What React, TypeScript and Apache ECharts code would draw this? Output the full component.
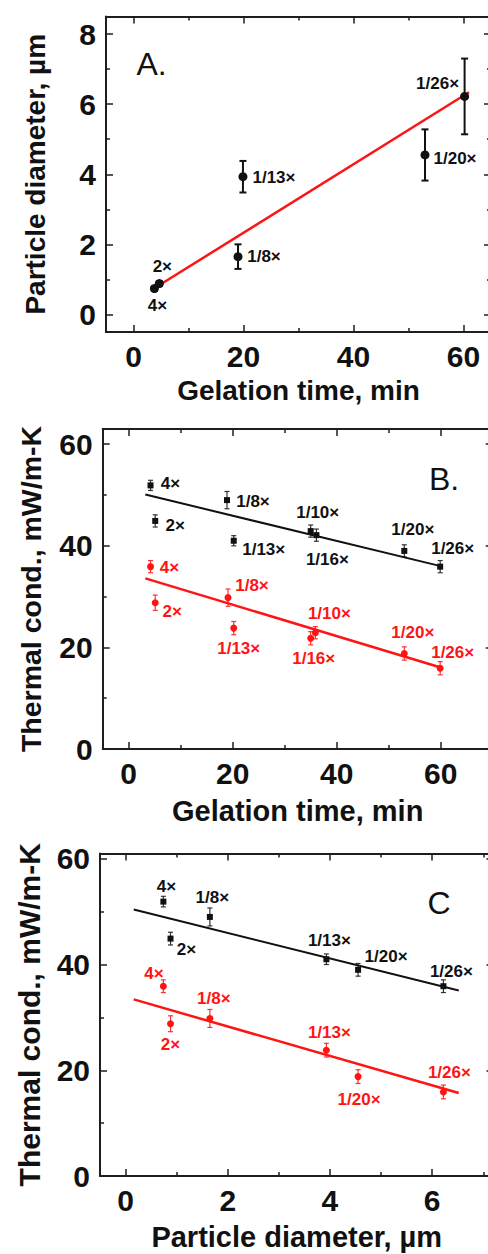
import React, { useEffect, useRef } from "react";
import * as echarts from "echarts";

// ---------------- data ----------------
// Panel A: particle diameter vs gelation time
const samplesA = ["4×", "2×", "1/8×", "1/13×", "1/20×", "1/26×"];
const gelTimeA = [3.8, 4.7, 19, 19.9, 53, 60.2];
const diameterA = [0.74, 0.88, 1.65, 3.93, 4.55, 6.22];
const diameterErrA = [0.07, 0.07, 0.35, 0.45, 0.73, 1.08];
const fitLineA = [[3.2, 0.69], [61, 6.34]];

// Panel B: thermal conductivity vs gelation time
const samplesB = ["4×", "2×", "1/8×", "1/13×", "1/10×", "1/16×", "1/20×", "1/26×"];
const gelTimeBlackB = [4.2, 5.1, 18.9, 20.2, 35, 36.1, 53, 59.9];
const condBlackB = [51.9, 44.9, 49, 41, 42.9, 42.1, 39, 35.9];
const condBlackErrB = [1, 1.2, 1.7, 1, 1.2, 1.2, 1.2, 1.2];
const gelTimeRedB = [4.2, 5.1, 19.1, 20.2, 35.9, 35, 53, 59.9];
const condRedB = [35.9, 28.8, 29.8, 23.8, 22.9, 21.8, 18.8, 15.9];
const condRedErrB = [1.2, 1.5, 1.7, 1.3, 1.2, 1.3, 1.3, 1.3];
const fitBlackB = [[3.2, 50.1], [60, 36.0]];
const fitRedB = [[3.2, 33.6], [60, 16.05]];

// Panel C: thermal conductivity vs particle diameter (same samples as A)
const samplesC = ["4×", "2×", "1/8×", "1/13×", "1/20×", "1/26×"];
const fitBlackC = [[0.16, 50.4], [6.52, 35.1]];
const fitRedC = [[0.16, 33.4], [6.52, 15.7]];

// Tick values
const ticksAx = [0, 20, 40, 60];
const minorAx = [10, 30, 50];
const ticksAy = [0, 2, 4, 6, 8];
const minorAy = [1, 3, 5, 7];
const ticksBx = [0, 20, 40, 60];
const minorBx = [10, 30, 50, 70];
const ticksBy = [0, 20, 40, 60];
const minorBy = [10, 30, 50];
const ticksCx = [0, 2, 4, 6];
const minorCx = [1, 3, 5, 7];
const ticksCy = [0, 20, 40, 60];
const minorCy = [10, 30, 50];

// Label placements (style, separate from data)
const labelOffsetA = [[3, 17], [3, -17], [26, 0], [31, 1], [30, 4], [-27, -13]];
const labelOffsetBlackB = [[20, -2], [20, 5], [26, 1], [30, 9], [7, -19], [11, 24], [8.5, -21], [12.5, -18.5]];
const labelOffsetRedB = [[19, 1], [17, 9], [24, -12], [5, 20], [14, -19], [3, 20], [8.5, -21], [12.5, -15.6]];
const labelOffsetBlackC = [[3, -15], [16, 11], [2.5, -19], [3, -19], [28, -13], [8, -15]];
const labelOffsetRedC = [[-9.4, -13], [0, 21], [4, -20], [3, -18], [1, 23], [6, -19]];

// ---------------- styling ----------------
const FONT = "'Liberation Sans', Arial, Helvetica, sans-serif";
const AX = "#1e1e1e";
const BLACK = "#111111";
const RED = "#ff1414";

function makeAxes(
  dim: "x" | "y",
  grid: number,
  min: number,
  max: number,
  majors: number[],
  minors: number[],
  name: string,
  nameGap: number,
  nameSize: number
) {
  const posA = dim === "x" ? "bottom" : "left";
  const posB = dim === "x" ? "top" : "right";
  const base: any = {
    type: "value",
    gridIndex: grid,
    min,
    max,
    splitLine: { show: false },
    axisLine: { show: true, onZero: false, lineStyle: { color: AX, width: 2 } },
    axisLabel: { show: false },
  };
  const major = { show: true, inside: true, length: 7, lineStyle: { color: AX, width: 1.5 }, customValues: majors };
  const minor = { show: true, inside: true, length: 4, lineStyle: { color: AX, width: 1.5 }, customValues: minors };
  return [
    {
      ...base,
      position: posA,
      name,
      nameLocation: "middle",
      nameGap,
      nameRotate: dim === "y" ? 90 : 0,
      nameTextStyle: { fontFamily: FONT, fontWeight: "bold", fontSize: nameSize, color: "#111" },
      axisTick: major,
      axisLabel: {
        show: true,
        customValues: majors,
        margin: dim === "x" ? 9 : 10,
        fontFamily: FONT,
        fontWeight: "bold",
        fontSize: 30,
        color: "#111",
      },
    },
    { ...base, position: posB, axisTick: major },
    { ...base, position: posA, axisLine: { show: false, onZero: false }, axisTick: minor },
    { ...base, position: posB, axisLine: { show: false, onZero: false }, axisTick: minor },
  ];
}

function errorSeries(grid: number, data: number[][], color: string, capHalf: number, width: number) {
  return {
    type: "custom",
    xAxisIndex: grid * 4,
    yAxisIndex: grid * 4,
    data,
    encode: { x: 0, y: 1 },
    z: 2,
    silent: true,
    renderItem: (params: any, api: any) => {
      const x = api.value(0);
      const y = api.value(1);
      const e = api.value(2);
      const lo = api.coord([x, y - e]);
      const hi = api.coord([x, y + e]);
      const style = { stroke: color, lineWidth: width };
      return {
        type: "group",
        children: [
          { type: "line", shape: { x1: lo[0], y1: lo[1], x2: hi[0], y2: hi[1] }, style },
          { type: "line", shape: { x1: lo[0] - capHalf, y1: lo[1], x2: lo[0] + capHalf, y2: lo[1] }, style },
          { type: "line", shape: { x1: hi[0] - capHalf, y1: hi[1], x2: hi[0] + capHalf, y2: hi[1] }, style },
        ],
      };
    },
  };
}

function scatterSeries(
  grid: number,
  names: string[],
  xs: number[],
  ys: number[],
  offsets: number[][],
  color: string,
  symbol: string,
  size: number
) {
  return {
    type: "scatter",
    xAxisIndex: grid * 4,
    yAxisIndex: grid * 4,
    symbol,
    symbolSize: size,
    itemStyle: { color, opacity: 1 },
    z: 3,
    data: names.map((n, i) => ({ name: n, value: [xs[i], ys[i]], label: { offset: offsets[i] } })),
    label: {
      show: true,
      position: "inside",
      formatter: "{b}",
      color,
      fontFamily: FONT,
      fontWeight: "bold",
      fontSize: 17,
    },
  };
}

function fitSeries(grid: number, data: number[][], color: string, width: number) {
  return {
    type: "line",
    xAxisIndex: grid * 4,
    yAxisIndex: grid * 4,
    data,
    symbol: "none",
    z: 2,
    lineStyle: { color, width },
  };
}

function buildOption() {
  // Panel C derived from A's diameters and B's conductivities, matched by sample
  const diamC = samplesC.map((s) => diameterA[samplesA.indexOf(s)]);
  const blackC = samplesC.map((s) => condBlackB[samplesB.indexOf(s)]);
  const blackErrC = samplesC.map((s) => condBlackErrB[samplesB.indexOf(s)]);
  const redC = samplesC.map((s) => condRedB[samplesB.indexOf(s)]);
  const redErrC = samplesC.map((s) => condRedErrB[samplesB.indexOf(s)]);

  const grids = [
    { left: 106, top: 16.5, width: 385, height: 315.5 },
    { left: 102.7, top: 429, width: 390, height: 320 },
    { left: 100, top: 853.5, width: 393.5, height: 322.5 },
  ];

  const xAxis = [
    ...makeAxes("x", 0, -5, 65, ticksAx, minorAx, "Gelation time, min", 44, 28),
    ...makeAxes("x", 1, -5, 70, ticksBx, minorBx, "Gelation time, min", 47, 29),
    ...makeAxes("x", 2, -0.5, 7.2, ticksCx, minorCx, "Particle diameter, µm", 46, 29),
  ];
  const yAxis = [
    ...makeAxes("y", 0, -0.5, 8.5, ticksAy, minorAy, "Particle diameter, µm", 57, 28),
    ...makeAxes("y", 1, 0, 63, ticksBy, minorBy, "Thermal cond., mW/m-K", 57, 28.5),
    ...makeAxes("y", 2, 0, 61, ticksCy, minorCy, "Thermal cond., mW/m-K", 56, 30),
  ];

  const zip = (xs: number[], ys: number[], es: number[]) => xs.map((x, i) => [x, ys[i], es[i]]);

  const series = [
    // A
    fitSeries(0, fitLineA, RED, 2.5),
    errorSeries(0, zip(gelTimeA, diameterA, diameterErrA), BLACK, 3.5, 2),
    scatterSeries(0, samplesA, gelTimeA, diameterA, labelOffsetA, BLACK, "circle", 9),
    // B
    fitSeries(1, fitBlackB, BLACK, 2),
    fitSeries(1, fitRedB, RED, 2.5),
    errorSeries(1, zip(gelTimeBlackB, condBlackB, condBlackErrB), "#333", 2.5, 1.2),
    errorSeries(1, zip(gelTimeRedB, condRedB, condRedErrB), "#ff3030", 2.5, 1.2),
    scatterSeries(1, samplesB, gelTimeBlackB, condBlackB, labelOffsetBlackB, BLACK, "rect", 6),
    scatterSeries(1, samplesB, gelTimeRedB, condRedB, labelOffsetRedB, RED, "circle", 7),
    // C
    fitSeries(2, fitBlackC, BLACK, 2),
    fitSeries(2, fitRedC, RED, 2.5),
    errorSeries(2, zip(diamC, blackC, blackErrC), "#333", 2.5, 1.2),
    errorSeries(2, zip(diamC, redC, redErrC), "#ff3030", 2.5, 1.2),
    scatterSeries(2, samplesC, diamC, blackC, labelOffsetBlackC, BLACK, "rect", 6),
    scatterSeries(2, samplesC, diamC, redC, labelOffsetRedC, RED, "circle", 7),
  ];

  const panelText = (text: string, x: number, y: number) => ({
    type: "text",
    x,
    y,
    z: 10,
    style: { text, fontFamily: FONT, fontSize: 32, fill: "#111", align: "center", verticalAlign: "middle" },
  });

  return {
    animation: false,
    backgroundColor: "#ffffff",
    grid: grids,
    xAxis,
    yAxis,
    series,
    graphic: [panelText("A.", 151.5, 64), panelText("B.", 444, 478.5), panelText("C", 439, 902.5)],
  };
}

export default function App() {
  const ref = useRef<HTMLDivElement | null>(null);
  useEffect(() => {
    if (!ref.current) return;
    const chart = echarts.init(ref.current, null, { renderer: "svg" });
    chart.setOption(buildOption() as any);
    return () => chart.dispose();
  }, []);
  return (
    <div style={{ position: "fixed", left: 0, top: 0, width: 488, height: 1254, overflow: "hidden", background: "#fff" }}>
      <div ref={ref} style={{ width: 500, height: 1254 }} />
    </div>
  );
}
